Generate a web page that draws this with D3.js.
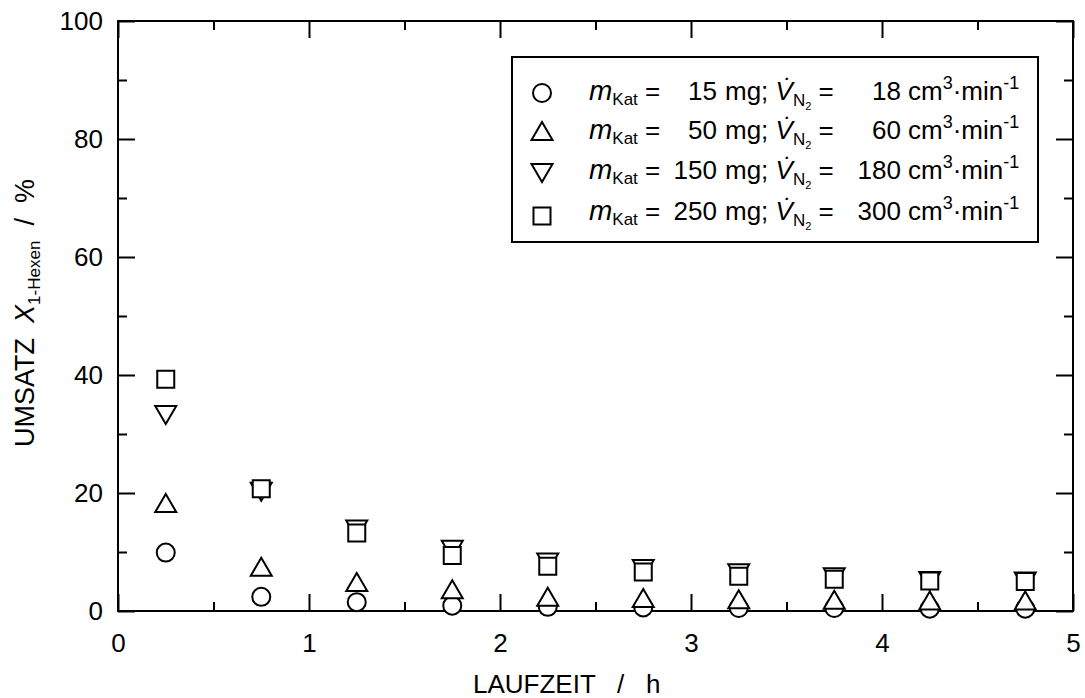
<!DOCTYPE html>
<html>
<head>
<meta charset="utf-8">
<script src="https://cdn.jsdelivr.net/npm/d3@7"></script>
<style>
  body { margin: 0; background: #fff; }
  text { font-family: "Liberation Sans", Arial, sans-serif; fill: #000; }
</style>
</head>
<body>
<div id="chart"></div>
<script>
// Umsatz 1-Hexen ueber Laufzeit, vier Katalysatormassen

var laufzeit = [0.25, 0.75, 1.25, 1.75, 2.25, 2.75, 3.25, 3.75, 4.25, 4.75];
var umsatz15 = [9.9, 2.4, 1.5, 0.9, 0.7, 0.6, 0.5, 0.5, 0.4, 0.4];
var umsatz50 = [18.3, 7.5, 4.9, 3.7, 2.4, 2.2, 2.0, 1.9, 1.8, 1.8];
var umsatz150 = [33.2, 20.2, 13.8, 10.4, 8.2, 7.1, 6.4, 5.7, 5.1, 5.0];
var umsatz250 = [39.3, 20.7, 13.2, 9.4, 7.6, 6.6, 5.9, 5.4, 5.1, 5.0];
var massLabels = ["15", "50", "150", "250"];
var flowLabels = ["18", "60", "180", "300"];
var symbolTypes = ["circle", "up", "down", "square"];
var xTicks = [0, 1, 2, 3, 4, 5];
var yTicks = [0, 20, 40, 60, 80, 100];

var width = 1085, height = 698;
// note: "top" is taken by window.top, so plot edges get a prefix
var pLeft = 118, pRight = 1073, pTop = 21, pBottom = 611;

var x = d3.scaleLinear().domain([0, 5]).range([pLeft, pRight]);
var y = d3.scaleLinear().domain([0, 100]).range([pBottom, pTop]);

var svg = d3.select("#chart").append("svg")
    .attr("width", width)
    .attr("height", height);

// marker outlines, centred on their bounding box
function marker(type) {
  if (type == "circle") return d3.arc()({innerRadius: 0, outerRadius: 9, startAngle: 0, endAngle: 2 * Math.PI});
  if (type == "up") return "M0,-9L10.5,9L-10.5,9Z";
  if (type == "down") return "M-10.5,-9L10.5,-9L0,9Z";
  return "M-8.5,-8.5H8.5V8.5H-8.5Z";
}

// axes with inward ticks on all four sides
var minorX = d3.range(0.5, 5, 1);
var minorY = d3.range(10, 100, 20);

function styleAxis(g) {
  g.select(".domain").remove();
  g.selectAll("line").attr("stroke", "#000").attr("stroke-width", 2);
  g.selectAll("text").attr("font-size", 26).attr("font-family", "Liberation Sans, Arial, sans-serif");
}

svg.append("g").attr("transform", `translate(0,${pBottom})`)
    .call(d3.axisBottom(x).tickValues(xTicks).tickFormat(d3.format("d")).tickSizeInner(-17).tickSizeOuter(0).tickPadding(23))
    .call(styleAxis);
svg.append("g").attr("transform", `translate(0,${pBottom})`)
    .call(d3.axisBottom(x).tickValues(minorX).tickFormat("").tickSizeInner(-9).tickSizeOuter(0))
    .call(styleAxis);
svg.append("g").attr("transform", `translate(0,${pTop})`)
    .call(d3.axisTop(x).tickValues(xTicks).tickFormat("").tickSizeInner(-17).tickSizeOuter(0))
    .call(styleAxis);
svg.append("g").attr("transform", `translate(0,${pTop})`)
    .call(d3.axisTop(x).tickValues(minorX).tickFormat("").tickSizeInner(-9).tickSizeOuter(0))
    .call(styleAxis);
svg.append("g").attr("transform", `translate(${pLeft},0)`)
    .call(d3.axisLeft(y).tickValues(yTicks).tickSizeInner(-17).tickSizeOuter(0).tickPadding(15))
    .call(styleAxis);
svg.append("g").attr("transform", `translate(${pLeft},0)`)
    .call(d3.axisLeft(y).tickValues(minorY).tickFormat("").tickSizeInner(-9).tickSizeOuter(0))
    .call(styleAxis);
svg.append("g").attr("transform", `translate(${pRight},0)`)
    .call(d3.axisRight(y).tickValues(yTicks).tickFormat("").tickSizeInner(-17).tickSizeOuter(0))
    .call(styleAxis);
svg.append("g").attr("transform", `translate(${pRight},0)`)
    .call(d3.axisRight(y).tickValues(minorY).tickFormat("").tickSizeInner(-9).tickSizeOuter(0))
    .call(styleAxis);

svg.append("rect")
    .attr("x", pLeft).attr("y", pTop)
    .attr("width", pRight - pLeft).attr("height", pBottom - pTop)
    .attr("fill", "none").attr("stroke", "#000").attr("stroke-width", 2);

// data points
var seriesList = [umsatz15, umsatz50, umsatz150, umsatz250];
seriesList.forEach(function(values, i) {
  svg.append("g")
    .selectAll("path")
    .data(values)
    .join("path")
      .attr("transform", (d, j) => `translate(${x(laufzeit[j])},${y(d)})`)
      .attr("d", marker(symbolTypes[i]))
      .attr("fill", "#fff")
      .attr("stroke", "#000")
      .attr("stroke-width", 2);
});

// axis titles
svg.append("text")
    .attr("x", 473).attr("y", 693)
    .attr("font-size", 26)
    .style("white-space", "pre")
    .text("LAUFZEIT   /   h");

var yTitle = svg.append("text")
    .attr("transform", "translate(34,313) rotate(-90)")
    .attr("text-anchor", "middle")
    .attr("font-size", 27)
    .style("white-space", "pre");
yTitle.append("tspan").text("UMSATZ  ");
yTitle.append("tspan").attr("font-style", "italic").text("X");
yTitle.append("tspan").attr("font-size", 17).attr("dy", 6).text("1-Hexen");
yTitle.append("tspan").attr("dy", -6).text("  /  %");

// legend
svg.append("rect")
    .attr("x", 512).attr("y", 57)
    .attr("width", 526).attr("height", 185)
    .attr("fill", "#fff").attr("stroke", "#000").attr("stroke-width", 2);

var rowBase = [100, 139, 179, 220];
var rowSym = [93, 131, 173, 216];

massLabels.forEach(function(m, i) {
  var b = rowBase[i];
  svg.append("path")
      .attr("transform", `translate(542,${rowSym[i]})`)
      .attr("d", marker(symbolTypes[i]))
      .attr("fill", "#fff").attr("stroke", "#000").attr("stroke-width", 2);

  var t1 = svg.append("text").attr("x", 589).attr("y", b).attr("font-size", 26).style("white-space", "pre");
  t1.append("tspan").attr("font-style", "italic").attr("font-size", 28).text("m");
  t1.append("tspan").attr("font-size", 17).attr("dy", 5).text("Kat");
  t1.append("tspan").attr("dy", -5).text(" =");

  svg.append("text").attr("x", 717).attr("y", b).attr("font-size", 26)
      .attr("text-anchor", "end").text(m);

  var t2 = svg.append("text").attr("x", 725).attr("y", b).attr("font-size", 26).style("white-space", "pre");
  t2.append("tspan").text("mg; ");
  t2.append("tspan").attr("font-style", "italic").text("V\u0307");
  t2.append("tspan").attr("font-size", 17).attr("dy", 6).text("N");
  t2.append("tspan").attr("font-size", 11).attr("dy", 4).text("2");
  t2.append("tspan").attr("dy", -10).text(" =");

  svg.append("text").attr("x", 901).attr("y", b).attr("font-size", 26)
      .attr("text-anchor", "end").text(flowLabels[i]);

  var t3 = svg.append("text").attr("x", 908).attr("y", b).attr("font-size", 26).style("white-space", "pre");
  t3.append("tspan").text("cm");
  t3.append("tspan").attr("font-size", 18).attr("dy", -11).text("3");
  t3.append("tspan").attr("dy", 11).text("\u00B7min");
  t3.append("tspan").attr("font-size", 18).attr("dy", -11).text("-1");
});
</script>
</body>
</html>
